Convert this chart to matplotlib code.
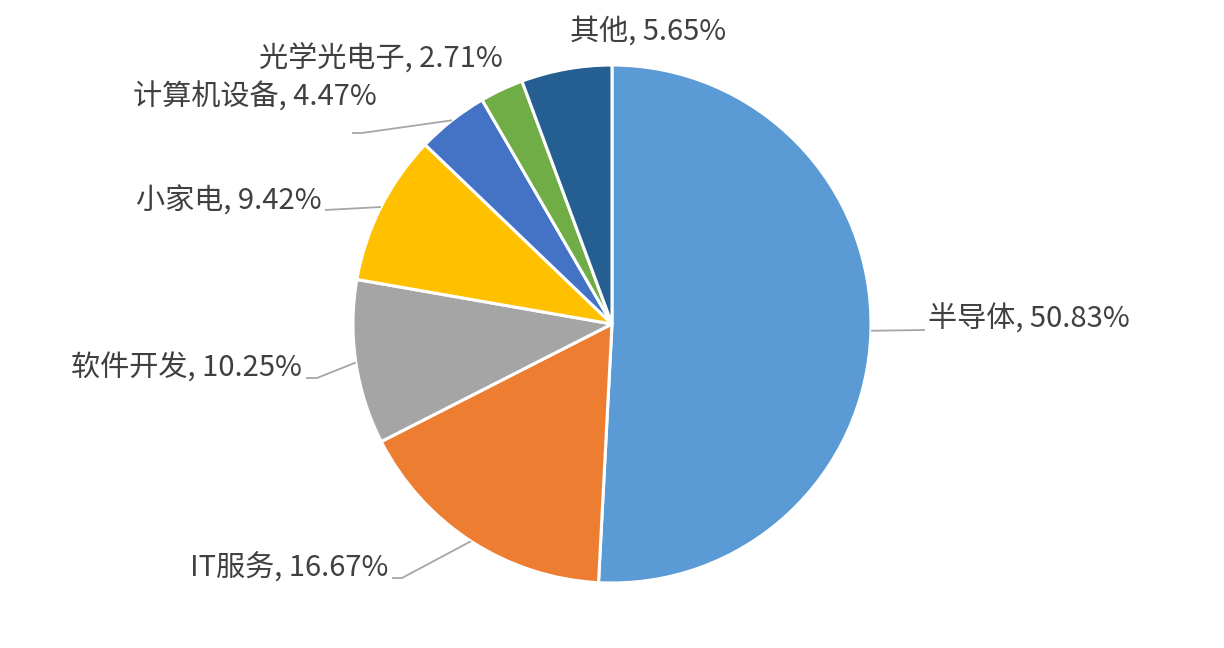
import numpy as np
import matplotlib.pyplot as plt

plt.rcParams['font.family'] = ['Noto Sans CJK SC', 'DejaVu Sans']

categories = ['半导体', 'IT服务', '软件开发', '小家电', '计算机设备', '光学光电子', '其他']
shares = [50.83, 16.67, 10.25, 9.42, 4.47, 2.71, 5.65]
colors = ['#5B9BD5', '#ED7D31', '#A5A5A5', '#FFC000', '#4472C4', '#70AD47', '#255E91']

W, H = 1224, 648
CX, CY, R = 612, 324, 259

# label placement in pixels: text x, text y, alignment, leader bends after the wedge edge
label_layout = [
    (928, 320, 'left', [(925, 330)]),
    (388, 568, 'right', [(402, 578), (392, 578)]),
    (302, 369, 'right', [(317, 378), (306, 378)]),
    (322, 202, 'right', [(325, 210)]),
    (377, 98, 'right', [(362, 133), (352, 133)]),
    (381, 58, 'center', None),
    (648, 32, 'center', None),
]


def px(x, y):
    return (x - CX) / R, (CY - y) / R


def main():
    fig = plt.figure(figsize=(W / 100, H / 100), dpi=100)
    ax = fig.add_axes([0, 0, 1, 1])
    wedges, _ = ax.pie(shares, colors=colors, startangle=90, counterclock=False,
                       radius=1, wedgeprops=dict(edgecolor='white', linewidth=2.2))
    ax.set_xlim(-CX / R, (W - CX) / R)
    ax.set_ylim(-(H - CY) / R, CY / R)
    ax.set_aspect('equal')
    ax.axis('off')

    for w, name, val, lay in zip(wedges, categories, shares, label_layout):
        tx, ty, ha, bends = lay
        mid = np.deg2rad((w.theta1 + w.theta2) / 2)
        if bends:
            xs = [np.cos(mid)] + [px(*b)[0] for b in bends]
            ys = [np.sin(mid)] + [px(*b)[1] for b in bends]
            ax.plot(xs, ys, color='#A6A6A6', lw=1.3, solid_capstyle='butt')
        x, y = px(tx, ty)
        ax.text(x, y, f'{name}, {val:.2f}%', ha=ha, va='center',
                fontsize=21, color='#404040')

    fig.savefig('out.png', dpi=100)


if __name__ == "__main__":
    main()
